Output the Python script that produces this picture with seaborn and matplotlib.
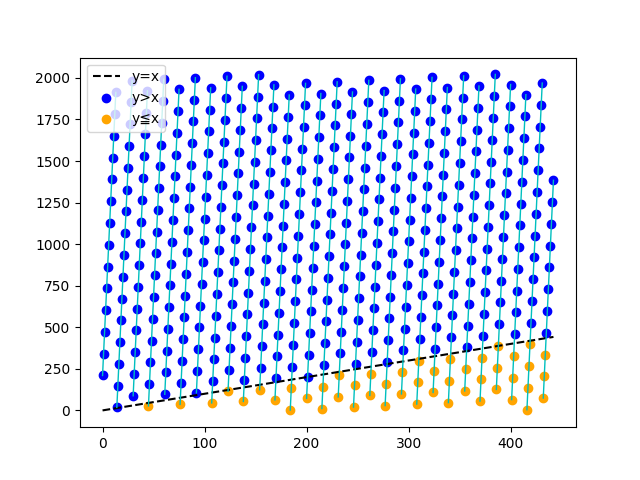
import numpy as np
import pandas as pd
import matplotlib
matplotlib.use('Agg')
import matplotlib.pyplot as plt
import seaborn as sns

plt.rcParams['font.family'] = ['DejaVu Sans', 'Noto Sans']

# y values read column by column (x is the point index 0..442)
y_values = [
    210, 341, 472, 603, 734, 865, 996, 1127, 1258, 1389, 1520, 1651, 1782, 1913,
    18, 149, 280, 411, 542, 673, 804, 935, 1066, 1197, 1328, 1459, 1590, 1721, 1852, 1983,
    88, 219, 350, 481, 612, 743, 874, 1005, 1136, 1267, 1398, 1529, 1660, 1791, 1922,
    27, 158, 289, 420, 551, 682, 813, 944, 1075, 1206, 1337, 1468, 1599, 1730, 1861, 1992,
    97, 228, 359, 490, 621, 752, 883, 1014, 1145, 1276, 1407, 1538, 1669, 1800, 1931,
    36, 167, 298, 429, 560, 691, 822, 953, 1084, 1215, 1346, 1477, 1608, 1739, 1870, 2001,
    106, 237, 368, 499, 630, 761, 892, 1023, 1154, 1285, 1416, 1547, 1678, 1809, 1940,
    45, 176, 307, 438, 569, 700, 831, 962, 1093, 1224, 1355, 1486, 1617, 1748, 1879, 2010,
    115, 246, 377, 508, 639, 770, 901, 1032, 1163, 1294, 1425, 1556, 1687, 1818, 1949,
    54, 185, 316, 447, 578, 709, 840, 971, 1102, 1233, 1364, 1495, 1626, 1757, 1888, 2019,
    124, 255, 386, 517, 648, 779, 910, 1041, 1172, 1303, 1434, 1565, 1696, 1827, 1958,
    63, 194, 325, 456, 587, 718, 849, 980, 1111, 1242, 1373, 1504, 1635, 1766, 1897,
    2, 133, 264, 395, 526, 657, 788, 919, 1050, 1181, 1312, 1443, 1574, 1705, 1836, 1967,
    72, 203, 334, 465, 596, 727, 858, 989, 1120, 1251, 1382, 1513, 1644, 1775, 1906,
    11, 142, 273, 404, 535, 666, 797, 928, 1059, 1190, 1321, 1452, 1583, 1714, 1845, 1976,
    81, 212, 343, 474, 605, 736, 867, 998, 1129, 1260, 1391, 1522, 1653, 1784, 1915,
    20, 151, 282, 413, 544, 675, 806, 937, 1068, 1199, 1330, 1461, 1592, 1723, 1854, 1985,
    90, 221, 352, 483, 614, 745, 876, 1007, 1138, 1269, 1400, 1531, 1662, 1793, 1924,
    29, 160, 291, 422, 553, 684, 815, 946, 1077, 1208, 1339, 1470, 1601, 1732, 1863, 1994,
    99, 230, 361, 492, 623, 754, 885, 1016, 1147, 1278, 1409, 1540, 1671, 1802, 1933,
    38, 169, 300, 431, 562, 693, 824, 955, 1086, 1217, 1348, 1479, 1610, 1741, 1872, 2003,
    108, 239, 370, 501, 632, 763, 894, 1025, 1156, 1287, 1418, 1549, 1680, 1811, 1942,
    47, 178, 309, 440, 571, 702, 833, 964, 1095, 1226, 1357, 1488, 1619, 1750, 1881, 2012,
    117, 248, 379, 510, 641, 772, 903, 1034, 1165, 1296, 1427, 1558, 1689, 1820, 1951,
    56, 187, 318, 449, 580, 711, 842, 973, 1104, 1235, 1366, 1497, 1628, 1759, 1890, 2021,
    126, 257, 388, 519, 650, 781, 912, 1043, 1174, 1305, 1436, 1567, 1698, 1829, 1960,
    65, 196, 327, 458, 589, 720, 851, 982, 1113, 1244, 1375, 1506, 1637, 1768, 1899,
    4, 135, 266, 397, 528, 659, 790, 921, 1052, 1183, 1314, 1445, 1576, 1707, 1838, 1969,
    74, 205, 336, 467, 598, 729, 860, 991, 1122, 1253, 1384,
]
labels = ['y=x', 'y>x', 'y≦x']
colors = ['black', 'blue', 'orange']

df = pd.DataFrame({'y': y_values})
df['x'] = df.index
df['above'] = df['y'] > df['x']
# new segment every time the value wraps back down
df['seg'] = (df['y'].diff() < 0).cumsum()

fig, ax = plt.subplots(figsize=(6.4, 4.8), dpi=100)

ax.plot(df['x'], df['x'], '--', color=colors[0], label=labels[0])
sns.scatterplot(data=df[df['above']], x='x', y='y', color=colors[1], label=labels[1],
                s=36, edgecolor='face', linewidth=1, legend=False, ax=ax)
sns.scatterplot(data=df[~df['above']], x='x', y='y', color=colors[2], label=labels[2],
                s=36, edgecolor='face', linewidth=1, legend=False, ax=ax)
sns.lineplot(data=df, x='x', y='y', units='seg', estimator=None, color='c',
             linewidth=1, legend=False, ax=ax)

ax.set_xlabel('')
ax.set_ylabel('')
ax.legend(loc='upper left')

plt.savefig('out.png')
